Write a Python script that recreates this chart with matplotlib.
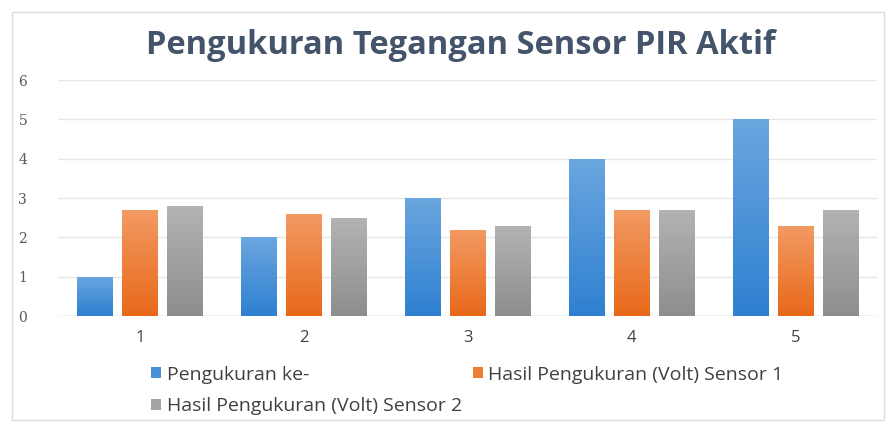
import numpy as np
import matplotlib
matplotlib.use("Agg")
import matplotlib.pyplot as plt
from matplotlib.colors import LinearSegmentedColormap
from matplotlib.patches import Rectangle

categories = [1, 2, 3, 4, 5]
pengukuran_ke = [1, 2, 3, 4, 5]
sensor1 = [2.7, 2.6, 2.2, 2.7, 2.3]
sensor2 = [2.8, 2.5, 2.3, 2.7, 2.7]
series_names = ["Pengukuran ke-", "Hasil Pengukuran (Volt) Sensor 1",
                "Hasil Pengukuran (Volt) Sensor 2"]

# (top colour, bottom colour) for the gradient fill
grads = [("#6aa6df", "#2f80d1"), ("#f29a63", "#e8691a"), ("#b3b3b3", "#8e8e8e")]
solid = ["#4a90d9", "#ed7d31", "#a5a5a5"]

fig = plt.figure(figsize=(8.89, 4.22), dpi=100)
ax = fig.add_axes([0.065, 0.251, 0.922, 0.559])

width = 0.215
step = 0.274
x = np.array(categories, dtype=float)
handles = []
for i, vals in enumerate([pengukuran_ke, sensor1, sensor2]):
    cmap = LinearSegmentedColormap.from_list("g%d" % i, [grads[i][1], grads[i][0]])
    bars = ax.bar(x + (i - 1) * step, vals, width, color=solid[i], zorder=2,
                  label=series_names[i])
    for b in bars:
        x0, y0 = b.get_x(), b.get_y()
        w, h = b.get_width(), b.get_height()
        grad = np.linspace(0, 1, 100).reshape(-1, 1)
        im = ax.imshow(grad, cmap=cmap, origin="lower", aspect="auto",
                       extent=[x0, x0 + w, y0, y0 + h], zorder=3)
        im.set_clip_path(b)
    handles.append(bars)

ax.set_xlim(0.5, 5.5)
ax.set_ylim(0, 6)
ax.set_yticks(range(0, 7))
ax.set_xticks(categories)
ax.set_xticklabels([str(c) for c in categories], fontsize=12, color="#404040",
                   family="Open Sans")
for lab in ax.get_yticklabels():
    lab.set_family("DejaVu Serif")
    lab.set_fontsize(10)
    lab.set_color("#595959")
ax.tick_params(length=0, pad=10)
ax.tick_params(axis="y", pad=22)
ax.grid(axis="y", color="#e6e6e6", linewidth=1, zorder=0)
for s in ax.spines.values():
    s.set_visible(False)
ax.axhline(0, color="#d9d9d9", linewidth=1, zorder=1)

fig.text(0.518, 0.893, "Pengukuran Tegangan Sensor PIR Aktif", ha="center",
         va="center", fontsize=23.5, fontweight="bold", color="#44546a",
         family="Open Sans")

leg = fig.legend([handles[0], handles[2], handles[1]],
                 [series_names[0], series_names[2], series_names[1]],
                 ncol=2, loc="upper left", bbox_to_anchor=(0.155, 0.166),
                 frameon=False, handlelength=0.5, handleheight=0.5,
                 handletextpad=0.3, columnspacing=0.55, labelspacing=0.7,
                 borderpad=0.2,
                 prop={"family": "Open Sans", "size": 14, "weight": "medium"})
for t in leg.get_texts():
    t.set_color("#404040")

fig.patches.append(Rectangle((0.014, 0.005), 0.98, 0.967, transform=fig.transFigure,
                             fill=False, edgecolor="#dcdcdc", linewidth=1))

fig.savefig("out.png", dpi=100)
